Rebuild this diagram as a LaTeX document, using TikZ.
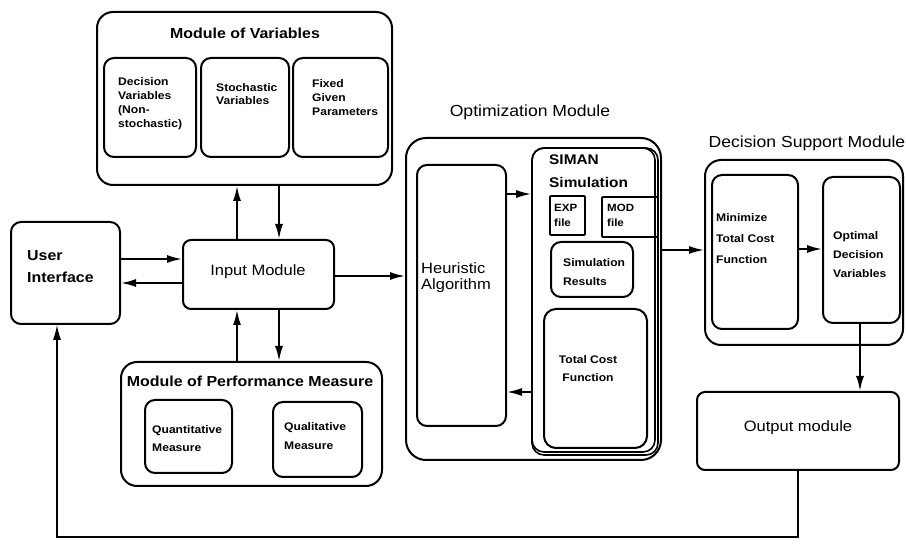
\documentclass[tikz,border=0pt]{standalone}
\usepackage{fontspec}
\setmainfont{Liberation Sans}[FakeStretch=1.1]
\usetikzlibrary{arrows.meta}
\newcommand{\myfs}[2]{\fontsize{#1}{#2}\selectfont}
\begin{document}
\begin{tikzpicture}[x=1pt,y=-1pt,
  box/.style={draw, line width=2pt, rounded corners=10pt, inner sep=0pt},
  bigbox/.style={box, rounded corners=16pt},
  sqbox/.style={draw, line width=1.8pt, rounded corners=1pt, inner sep=0pt},
  arr/.style={line width=1.8pt, -{Latex[length=15pt,width=8pt]}},
  thin arr/.style={line width=1.1pt, -{Latex[length=15pt,width=8pt]}},
  t/.style={inner sep=0pt, align=left},
  small/.style={t, font=\myfs{11}{14}\bfseries},
  title/.style={inner sep=0pt, font=\myfs{14.5}{17}\bfseries},
  rtitle/.style={inner sep=0pt, font=\myfs{16}{19}},
]
\useasboundingbox (0,0) rectangle (906,545);

% Module of Variables
\node[bigbox, minimum width=295pt, minimum height=173pt] (mov) at (244.5,98.5) {};
\node[title] (movt) at (245,33) {Module of Variables};
\node[box, minimum width=92pt, minimum height=99pt] (dv) at (150,107.5) {};
\node[box, minimum width=88pt, minimum height=99pt] (sv) at (245,107.5) {};
\node[box, minimum width=95pt, minimum height=99pt] (fp) at (340.5,107.5) {};
\node[small, anchor=west] (dvt) at (118,104) {Decision\\Variables\\(Non-\\stochastic)};
\node[small, anchor=west, font=\myfs{11}{12.5}\bfseries] (svt) at (216,94) {Stochastic\\Variables};
\node[small, anchor=west] (fpt) at (312,97.5) {Fixed\\Given\\Parameters};

% User interface & Input
\node[box, minimum width=109pt, minimum height=102pt] (ui) at (65.5,273) {};
\node[t, anchor=west, font=\myfs{14.5}{22}\bfseries] (uit) at (27,267) {User\\Interface};
\node[box, rounded corners=8pt, minimum width=151pt, minimum height=69pt] (input) at (258.5,274.5) {};
\node[inner sep=0pt, font=\myfs{15}{18}] (inputt) at (258,272) {Input Module};

% Module of Performance Measure
\node[bigbox, minimum width=261pt, minimum height=124pt] (mopm) at (251.5,424) {};
\node[title] (mopmt) at (250,381) {Module of Performance Measure};
\node[box, minimum width=87pt, minimum height=73pt] (quant) at (188.5,436.5) {};
\node[box, minimum width=89pt, minimum height=75pt] (qual) at (317.5,439.5) {};
\node[small, anchor=west, font=\myfs{11}{18}\bfseries] (quantt) at (152,439) {Quantitative\\Measure};
\node[small, anchor=west, font=\myfs{11}{19}\bfseries] (qualt) at (284,436.5) {Qualitative\\Measure};

% Optimization Module
\node[rtitle] (optt) at (530,112) {Optimization Module};
\node[bigbox, rounded corners=20pt, minimum width=255pt, minimum height=322pt] (opt) at (533.5,299) {};
\node[box, minimum width=89pt, minimum height=261pt] (heur) at (461.5,295.5) {};
\node[t, anchor=west, font=\myfs{15}{16}] (heurt) at (421,277.5) {Heuristic\\Algorithm};
\node[box, line width=1.6pt, rounded corners=12pt, minimum width=123pt, minimum height=304pt] (siman) at (593.5,300) {};
\node[box, line width=1.6pt, rounded corners=12pt, minimum width=126pt, minimum height=307pt, anchor=north west] (simano) at (siman.north west) {};
\node[t, anchor=west, font=\myfs{14}{23}\bfseries] (simant) at (549,171.5) {SIMAN\\Simulation};
\node[sqbox, minimum width=35pt, minimum height=39pt] (exp) at (567.5,215.5) {};
\node[small, anchor=west, font=\myfs{10.5}{15}\bfseries] (expt) at (554,215.5) {EXP\\file};
\node[sqbox, minimum width=56pt, minimum height=40pt] (mod) at (630,217) {};
\node[small, anchor=west, font=\myfs{10.5}{15}\bfseries] (modt) at (607,215.5) {MOD\\file};
\node[box, minimum width=82pt, minimum height=55pt] (simres) at (592,269.5) {};
\node[small, anchor=west, font=\myfs{11}{19}\bfseries] (simrest) at (563,272.5) {Simulation\\Results};
\node[box, rounded corners=12pt, minimum width=103pt, minimum height=139pt] (tcf) at (595.5,378.5) {};
\node[small, align=center, font=\myfs{11}{18}\bfseries] (tcft) at (588,369) {Total Cost\\Function};

% Decision Support Module
\node[rtitle] (dsmt) at (807,143) {Decision Support Module};
\node[bigbox, minimum width=198pt, minimum height=185pt] (dsm) at (804,252.5) {};
\node[box, minimum width=86pt, minimum height=154pt] (mini) at (755,252) {};
\node[small, anchor=west, font=\myfs{11}{21}\bfseries] (minit) at (716,239) {Minimize\\Total Cost\\Function};
\node[box, minimum width=77pt, minimum height=146pt] (optd) at (861.5,250) {};
\node[small, anchor=west, font=\myfs{11}{19}\bfseries] (optdt) at (833,255) {Optimal\\Decision\\Variables};

% Output module
\node[box, rounded corners=8pt, minimum width=202pt, minimum height=78pt] (out) at (798,431) {};
\node[inner sep=0pt, font=\myfs{15}{18}] (outt) at (798,428) {Output module};

% helper coordinates
\coordinate (xa) at (237,0);
\coordinate (xb) at (279,0);
\coordinate (xc) at (860,0);
\coordinate (ya) at (0,259);
\coordinate (yb) at (0,283);
\coordinate (yc) at (0,276);
\coordinate (yd) at (0,194);
\coordinate (ye) at (0,392);
\coordinate (yf) at (0,250);
\coordinate (yg) at (0,249);
\coordinate (fb) at (57,537);

% connectors
\draw[arr] (input.north -| xa) -- (mov.south -| xa);
\draw[arr] (mov.south -| xb) -- (input.north -| xb);
\draw[arr] (mopm.north -| xa) -- (input.south -| xa);
\draw[arr] (input.south -| xb) -- (mopm.north -| xb);
\draw[arr] (ui.east |- ya) -- (input.west |- ya);
\draw[arr] (input.west |- yb) -- (ui.east |- yb);
\draw[arr] (input.east |- yc) -- (opt.west |- yc);
\draw[arr] (heur.east |- yd) -- (siman.west |- yd);
\draw[arr] (siman.west |- ye) -- (heur.east |- ye);
\draw[arr] (opt.east |- yf) -- (dsm.west |- yf);
\draw[arr] (mini.east |- yg) -- (optd.west |- yg);
\draw[arr] (optd.south -| xc) -- (out.north -| xc);
\draw[thin arr] (out.south) |- (fb) -- (fb |- ui.south);
\end{tikzpicture}
\end{document}
